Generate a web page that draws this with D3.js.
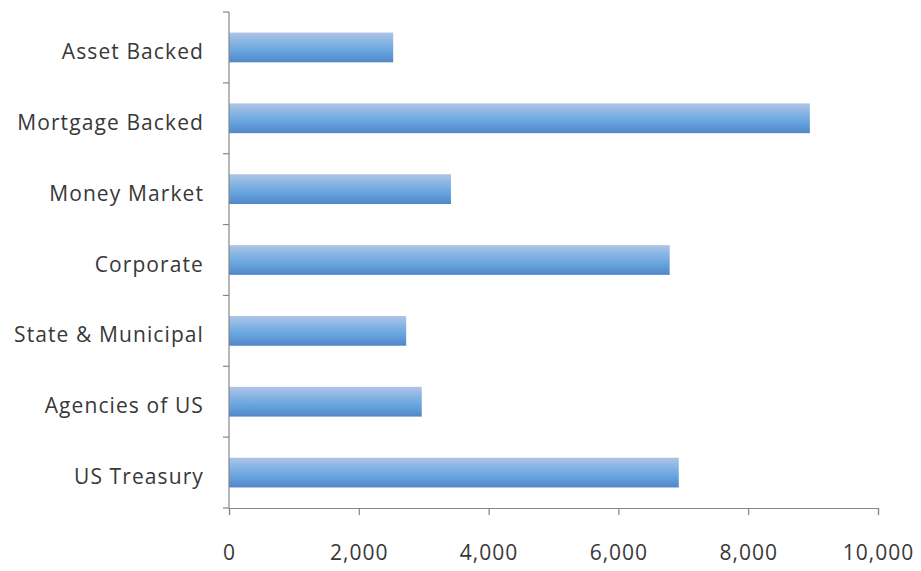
<!DOCTYPE html>
<html>
<head>
<meta charset="utf-8">
<script src="https://cdn.jsdelivr.net/npm/d3@7"></script>
<style>
  body { margin: 0; background: #fff; }
  text { font-family: "Open Sans", "DejaVu Sans", sans-serif; fill: #383838; }
</style>
</head>
<body>
<div id="chart"></div>
<script>
const categories = ['Asset Backed', 'Mortgage Backed', 'Money Market', 'Corporate', 'State & Municipal', 'Agencies of US', 'US Treasury'];
const values = [2530, 8950, 3420, 6790, 2730, 2970, 6930];
const xTicks = [0, 2000, 4000, 6000, 8000, 10000];

const margin = { top: 12, right: 43, bottom: 63, left: 229 },
  width = 921 - margin.left - margin.right,
  height = 571 - margin.top - margin.bottom;

const svg = d3.select('#chart')
  .append('svg')
  .attr('width', 921)
  .attr('height', 571);

const defs = svg.append('defs');
const grad = defs.append('linearGradient')
  .attr('id', 'barGrad')
  .attr('x1', 0).attr('y1', 0).attr('x2', 0).attr('y2', 1);
grad.append('stop').attr('offset', '0%').attr('stop-color', '#b0c4e6');
grad.append('stop').attr('offset', '35%').attr('stop-color', '#82b3e4');
grad.append('stop').attr('offset', '65%').attr('stop-color', '#65a3dd');
grad.append('stop').attr('offset', '100%').attr('stop-color', '#5286c6');

const g = svg.append('g').attr('transform', `translate(${margin.left},${margin.top})`);

const x = d3.scaleLinear().domain([0, 10000]).range([0, width]);
const y = d3.scaleBand().domain(categories).range([0, height]).paddingInner(0.58).paddingOuter(0.29);

// bars
g.selectAll('rect.bar')
  .data(values)
  .enter()
  .append('rect')
  .attr('class', 'bar')
  .attr('x', 0)
  .attr('y', (d, i) => y(categories[i]))
  .attr('width', d => x(d))
  .attr('height', y.bandwidth())
  .attr('fill', 'url(#barGrad)');

// y axis line and boundary ticks
const step = height / categories.length;
g.append('line')
  .attr('x1', 0).attr('x2', 0).attr('y1', 0).attr('y2', height)
  .attr('stroke', '#868686').attr('stroke-width', 1.2);
for (let i = 0; i <= categories.length; i++) {
  g.append('line')
    .attr('x1', -6).attr('x2', 0)
    .attr('y1', i * step).attr('y2', i * step)
    .attr('stroke', '#868686').attr('stroke-width', 1.2);
}

// category labels
g.selectAll('text.cat')
  .data(categories)
  .enter()
  .append('text')
  .attr('class', 'cat')
  .attr('x', -25)
  .attr('y', d => y(d) + y.bandwidth() / 2)
  .attr('dy', '0.55em')
  .attr('text-anchor', 'end')
  .style('font-size', '21px')
  .style('letter-spacing', '1.1px')
  .text(d => d);

// x axis
const xAxis = g.append('g')
  .attr('transform', `translate(0,${height})`)
  .call(d3.axisBottom(x).tickValues(xTicks).tickSize(7).tickPadding(30).tickFormat(d3.format(',')));
xAxis.select('.domain').attr('stroke', '#868686').attr('stroke-width', 1.2);
xAxis.selectAll('.tick line').attr('stroke', '#868686').attr('stroke-width', 1.2);
xAxis.selectAll('.tick text')
  .style('font-size', '21px')
  .style('letter-spacing', '1px')
  .style('font-family', '"Open Sans", "DejaVu Sans", sans-serif')
  .attr('fill', '#383838');
</script>
</body>
</html>
